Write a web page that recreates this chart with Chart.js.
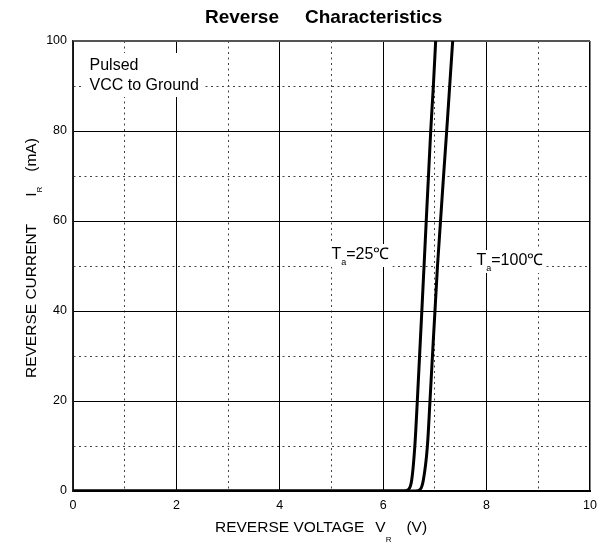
<!DOCTYPE html>
<html>
<head>
<meta charset="utf-8">
<script src="https://cdn.jsdelivr.net/npm/chart.js@4.4.1/dist/chart.umd.min.js"></script>
<style>
  html, body { margin: 0; padding: 0; background: #fff; }
  #c { display: block; }
</style>
</head>
<body>
<canvas id="c" width="609" height="544"></canvas>
<script>
// reverse voltage (V) vs reverse current (mA)
const vr25  = [0, 6.40, 6.485, 6.551, 6.612, 6.660, 6.79, 6.919, 6.97, 7.015];
const ir25  = [0, 0,    0.3,   2.4,   10,    20,    50,   80,    90,   100];
const vr100 = [0, 6.62, 6.712, 6.776, 6.855, 6.905, 7.05, 7.228, 7.286, 7.344];
const ir100 = [0, 0,    0.3,   2.4,   10,    20,    50,   80,    90,    100];

const xMin = 0, xMax = 10, xStep = 1;
const yMin = 0, yMax = 100, yStep = 10;

const FONT = 'Arial, "Liberation Sans", sans-serif';

const pts = (xs, ys) => xs.map((x, i) => ({ x, y: ys[i] }));

function gridColor(major, top) {
  return ctx => {
    const v = ctx.tick ? ctx.tick.value : 0;
    if (v === top) return top === yMax ? '#555' : '#000';
    return v % major === 0 ? '#000' : '#444';
  };
}

// draws text pieces in a row, with subscripts
function drawRow(ctx, x, y, parts) {
  let cx = x;
  for (const p of parts) {
    ctx.font = `${p.bold ? 'bold ' : ''}${p.size}px ${FONT}`;
    ctx.fillText(p.t, cx, y + (p.dy || 0));
    cx += ctx.measureText(p.t).width + (p.gap || 0);
  }
  return cx - x;
}

function rowWidth(ctx, parts) {
  let w = 0;
  for (const p of parts) {
    ctx.font = `${p.size}px ${FONT}`;
    w += ctx.measureText(p.t).width + (p.gap || 0);
  }
  return w;
}

const notes = {
  id: 'notes',
  beforeDatasetsDraw(chart) {
    const ctx = chart.ctx;
    ctx.save();
    ctx.textBaseline = 'alphabetic';
    ctx.textAlign = 'left';

    // Pulsed / VCC to Ground box
    ctx.font = `16px ${FONT}`;
    const w1 = ctx.measureText('VCC to Ground').width;
    ctx.fillStyle = '#fff';
    ctx.fillRect(81, 53, w1 + 14, 44);
    ctx.fillStyle = '#000';
    ctx.fillText('Pulsed', 89.5, 70);
    ctx.fillText('VCC to Ground', 89.5, 90);

    const labels = [
      { x: 331.5, y: 259, parts: [{ t: 'T', size: 16 }, { t: 'a', size: 9, dy: 6 }, { t: '=25℃', size: 16 }] },
      { x: 476.5, y: 265, parts: [{ t: 'T', size: 16 }, { t: 'a', size: 9, dy: 6 }, { t: '=100℃', size: 16 }] },
    ];
    for (const l of labels) {
      const w = rowWidth(ctx, l.parts);
      ctx.fillStyle = '#fff';
      ctx.fillRect(l.x - 3, l.y - 15, w + 6, 23);
      ctx.fillStyle = '#000';
      drawRow(ctx, l.x, l.y, l.parts);
    }
    ctx.restore();
  },
  afterDraw(chart) {
    const ctx = chart.ctx;
    const a = chart.chartArea;
    ctx.save();
    ctx.fillStyle = '#000';
    ctx.textBaseline = 'alphabetic';
    ctx.textAlign = 'left';

    // title
    ctx.font = `bold 19px ${FONT}`;
    ctx.fillText('Reverse', 205, 22.5);
    ctx.fillText('Characteristics', 305, 22.5);

    // x axis title
    drawRow(ctx, 215, a.bottom + 41, [
      { t: 'REVERSE VOLTAGE', size: 15.5, gap: 11 },
      { t: 'V', size: 15.5 },
      { t: 'R', size: 8, dy: 9.5, gap: 15 },
      { t: '(V)', size: 15.5 },
    ]);

    // y axis title, rotated
    ctx.translate(35.5, 378);
    ctx.rotate(-Math.PI / 2);
    drawRow(ctx, 0, 0, [
      { t: 'REVERSE CURRENT', size: 15.5, gap: 27 },
      { t: 'I', size: 15.5 },
      { t: 'R', size: 8, dy: 6, gap: 15 },
      { t: '(mA)', size: 15.5 },
    ]);
    ctx.restore();
  },
};

const lineStyle = {
  borderColor: '#000',
  borderWidth: 3,
  pointRadius: 0,
  fill: false,
  cubicInterpolationMode: 'monotone',
};

new Chart(document.getElementById('c'), {
  type: 'line',
  data: {
    datasets: [
      { label: 'Ta=25℃', data: pts(vr25, ir25), ...lineStyle },
      { label: 'Ta=100℃', data: pts(vr100, ir100), ...lineStyle },
    ],
  },
  options: {
    responsive: false,
    devicePixelRatio: 1,
    animation: false,
    layout: { padding: { top: 41, right: 19, left: 0, bottom: 0 } },
    plugins: { legend: { display: false }, tooltip: { enabled: false }, title: { display: false } },
    scales: {
      x: {
        type: 'linear', min: xMin, max: xMax,
        afterFit: s => { s.height = 53; },
        ticks: {
          stepSize: xStep, autoSkip: false, maxRotation: 0, padding: 7,
          color: '#000', font: { family: FONT, size: 12.5 },
          callback: v => (v % 2 === 0 ? v : ''),
        },
        grid: {
          drawTicks: false,
          color: gridColor(2, xMax),
          lineWidth: ctx => (ctx.tick && ctx.tick.value === xMax ? 1.5 : 1),
        },
        border: {
          color: '#000', width: 2,
          dash: ctx => (ctx.tick && ctx.tick.value % 2 ? [2, 3.5] : []),
        },
      },
      y: {
        type: 'linear', min: yMin, max: yMax,
        afterFit: s => { s.width = 73; },
        ticks: {
          stepSize: yStep, autoSkip: false, padding: 6,
          color: '#000', font: { family: FONT, size: 12.5 },
          callback: v => (v % 20 === 0 ? v : ''),
        },
        grid: {
          drawTicks: false,
          color: gridColor(20, yMax),
          lineWidth: ctx => (ctx.tick && ctx.tick.value === yMax ? 2 : 1),
        },
        border: {
          color: '#222', width: 1.5,
          dash: ctx => (ctx.tick && ctx.tick.value % 20 ? [2, 3.5] : []),
        },
      },
    },
  },
  plugins: [notes],
});
</script>
</body>
</html>
